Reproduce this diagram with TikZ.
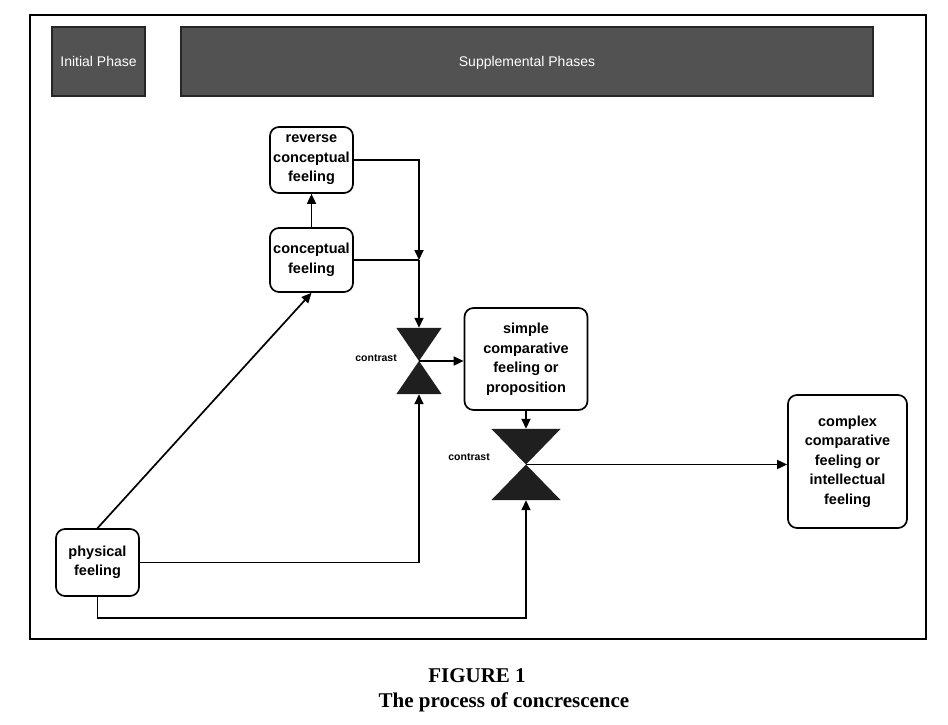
\documentclass[tikz,border=0pt]{standalone}
\usepackage{fontspec}
\setmainfont{Liberation Sans}
\newfontfamily\capfont{Liberation Serif}
\usetikzlibrary{arrows.meta,calc}

\begin{document}
\begin{tikzpicture}[x=1pt,y=-1pt,
  feel/.style 2 args={draw, line width=1.7pt, rounded corners=9pt, align=center,
    inner sep=0pt, minimum width=#1, minimum height=#2,
    font=\fontsize{14.5}{19.5}\selectfont\bfseries},
  phase/.style 2 args={draw=black!85, fill=black!68, line width=1.4pt, inner sep=0pt,
    minimum width=#1, minimum height=#2, text=white, text height=10pt, text depth=0pt,
    font=\fontsize{14}{16}\selectfont},
  hourglass/.style 2 args={inner sep=0pt, minimum width=#1, minimum height=#2},
  conn/.style={line width=1.7pt},
  tip/.style={-{Triangle[length=10pt,width=9pt]}},
  tag/.style={font=\fontsize{10.5}{12}\selectfont\bfseries, inner sep=0pt},
  caption/.style={font=\capfont\bfseries\fontsize{21}{24}\selectfont, inner sep=0pt}
]
\useasboundingbox (0,0) rectangle (948,725);

% outer frame
\draw[line width=2.8pt] (30,15) rectangle (926,639);

% phase headers
\node[phase={93}{69}] (init) at (98.5,61.5) {Initial Phase};
\node[phase={692}{69}] (supp) at (527,61.5) {Supplemental Phases};

% feelings
\node[feel={83}{66}] (rev)  at (311.5,160) {reverse\\conceptual\\feeling};
\node[feel={83}{64}] (conc) at (311.5,260) {conceptual\\feeling};
\node[feel={83}{67}] (phys) at (97.5,562.5) {physical\\feeling};
\node[feel={123}{102}] (simp) at (526,359) {simple\\comparative\\feeling or\\proposition};
\node[feel={119}{133}] (cplx) at (847.5,461.5) {complex\\comparative\\feeling or\\intellectual\\feeling};

% contrast junctions (hourglass symbols)
\node[hourglass={45}{66}] (hg1) at (419,361) {};
\node[hourglass={69}{71}] (hg2) at (526,464.5) {};
\foreach \h in {hg1,hg2}{
  \fill[black!88] (\h.north west) -- (\h.north east) -- (\h.center) -- cycle
                  (\h.south west) -- (\h.south east) -- (\h.center) -- cycle;
}
\node[tag, anchor=east] (c1) at (397,358) {contrast};
\node[tag, anchor=east] (c2) at (490,457) {contrast};

% connectors
\coordinate (j1) at (hg1.north |- conc.east);
\coordinate (low) at (hg2.south |- 0,618);
\coordinate (lowl) at (phys.south |- low);

\draw[conn,tip] (phys.north) -- (conc.south);
\draw[conn,tip] (conc.north) -- (rev.south);
\draw[conn,tip] (rev.east) -| (j1);
\draw[conn] (conc.east) -- (j1);
\draw[conn,tip] (j1) -- (hg1.north);
\draw[conn,tip] (phys.east) -| (hg1.south);
\draw[conn,tip] (hg1.center) -- (hg1.center -| simp.west);
\draw[conn,tip] (simp.south) -- (hg2.north);
\draw[conn,tip] (phys.south) -- (lowl) -- (low) -- (hg2.south);
\draw[conn,tip] (hg2.center) -- (hg2.center -| cplx.west);

% caption
\node[caption] (fig) at (477,676) {FIGURE 1};
\node[caption] (title) at (504,702) {The process of concrescence};
\end{tikzpicture}
\end{document}
